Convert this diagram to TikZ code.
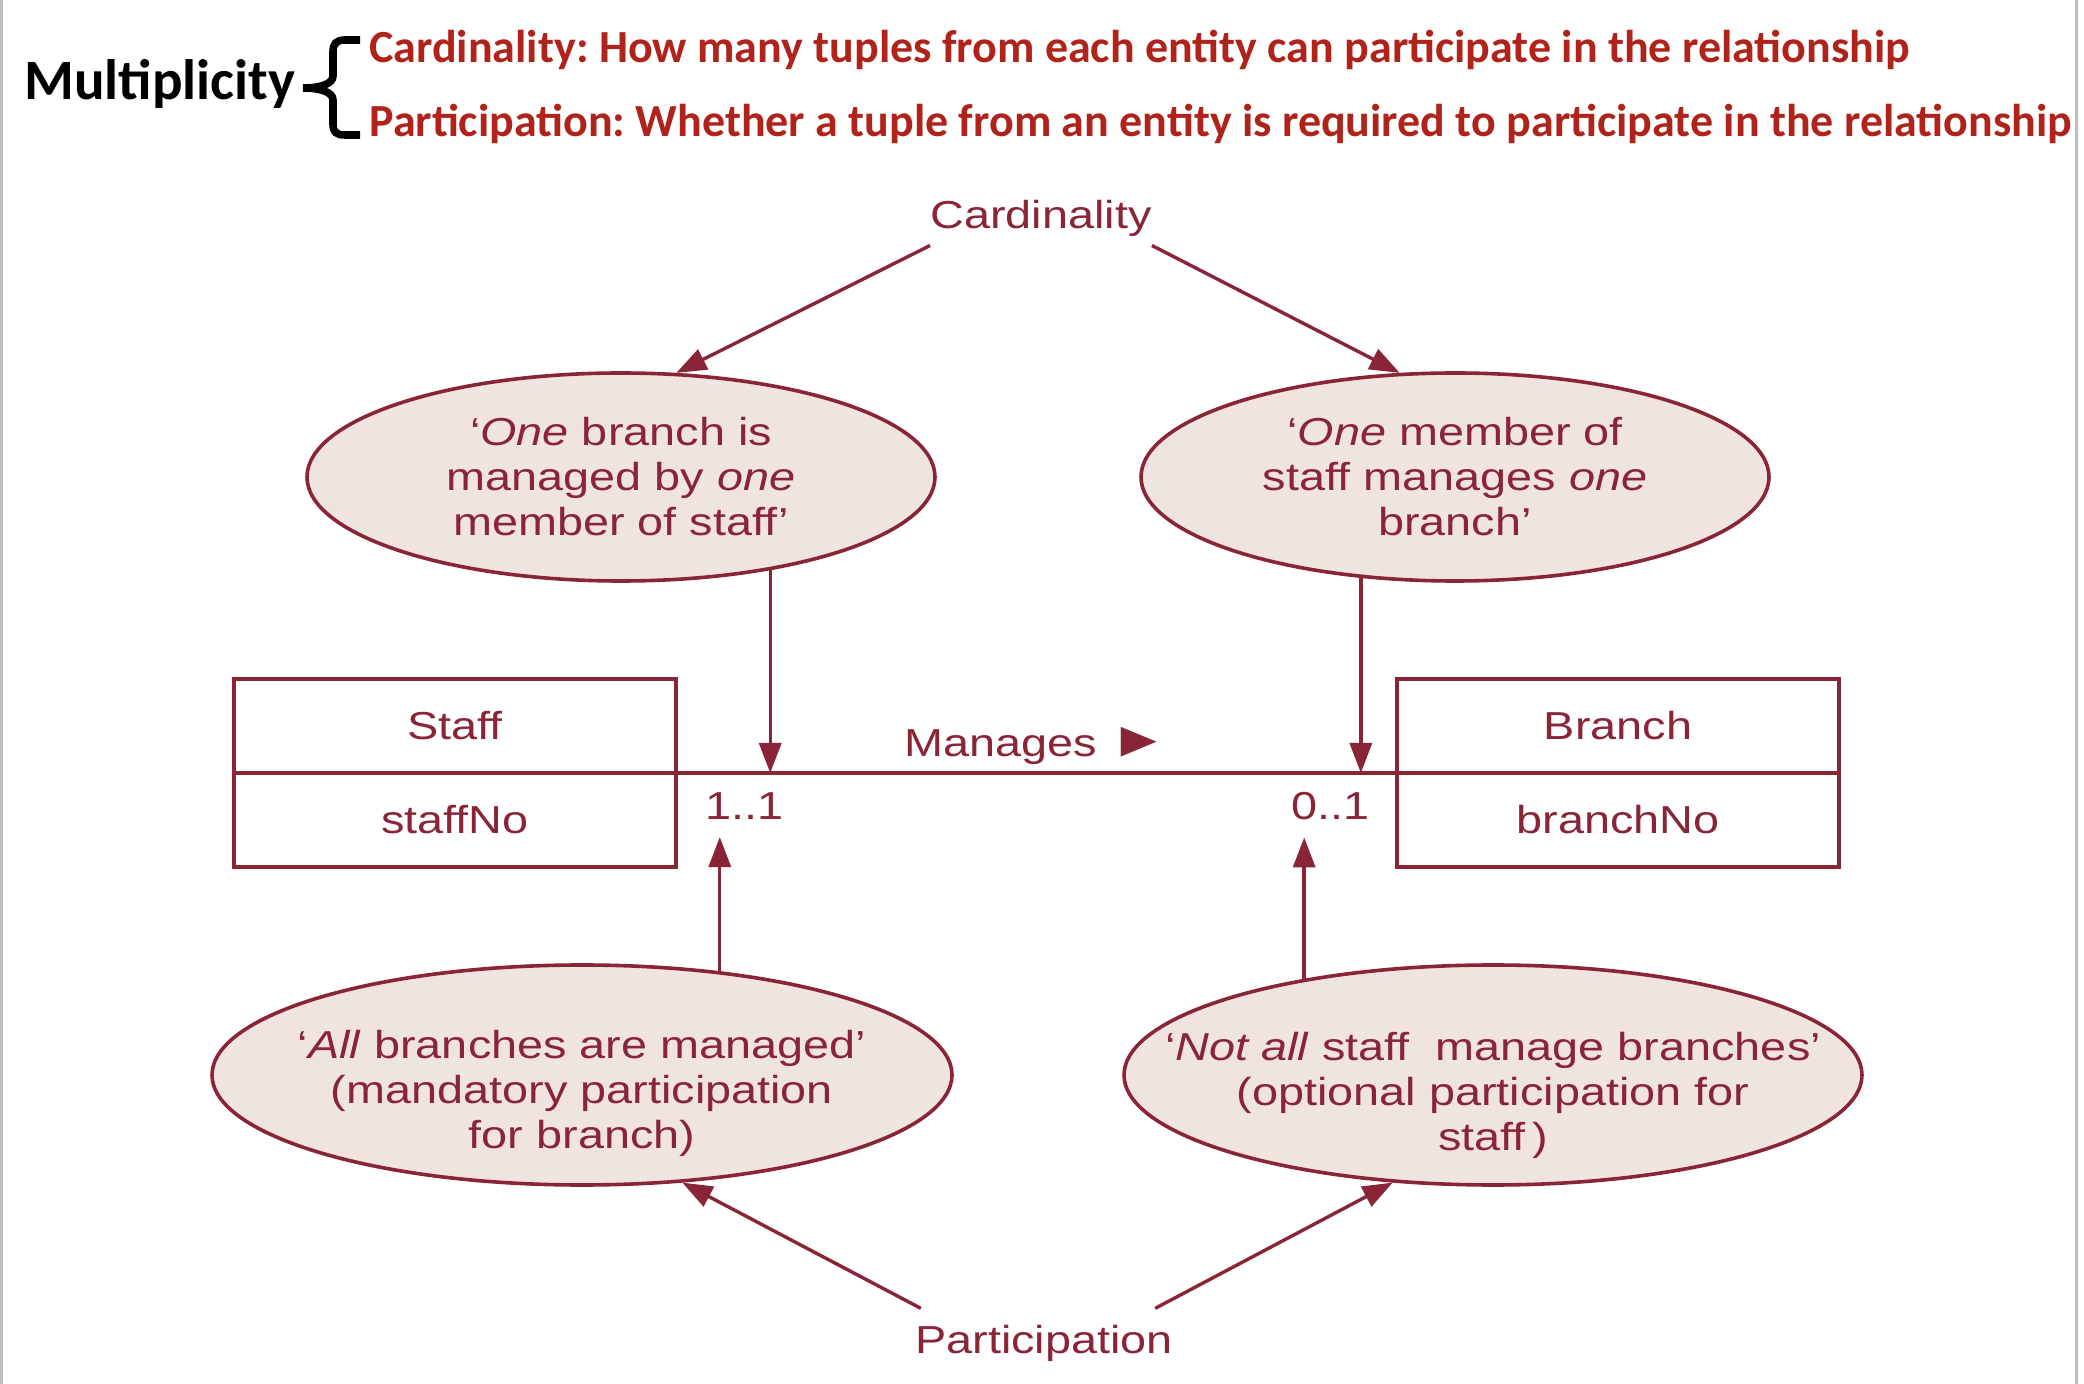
\documentclass[tikz,border=0pt]{standalone}
\usepackage{fontspec}
\setmainfont{Liberation Sans}[FakeStretch=1.2]
\newfontfamily\headfont{Carlito}
\usepackage{tikz}
\usetikzlibrary{shapes.geometric, arrows.meta, positioning}
\definecolor{erdred}{RGB}{138,36,55}
\definecolor{erdfill}{RGB}{240,228,225}
\definecolor{headred}{RGB}{176,35,26}
\frenchspacing

\begin{document}
\begin{tikzpicture}[
    x=0.5pt, y=-0.5pt,
    font=\fontsize{19.5}{22.5}\selectfont,
    headline/.style={anchor=base west, inner sep=0pt, text=headred, font=\headfont\bfseries\fontsize{23}{26}\selectfont},
    note/.style={ellipse, draw=erdred, fill=erdfill, line width=1.8pt, inner sep=0pt, minimum width=314pt, minimum height=104pt},
    notetext/.style={align=center, text=erdred},
    entity/.style={rectangle, draw=erdred, line width=1.8pt, outer sep=0pt, minimum width=221pt, minimum height=47pt, text=erdred},
    tag/.style={text=erdred, inner xsep=0pt},
    arrow/.style={-{Triangle[length=15pt, width=11pt]}, line width=1.7pt, erdred}
]
\fill[white] (0,0) rectangle (2084,1384);
\useasboundingbox (0,0) rectangle (2084,1384);
\draw[black!25, line width=1.5pt] (1,0) -- (1,1384);
\draw[black!25, line width=1.5pt] (2076,0) -- (2076,1384);

% Heading
\node[anchor=base west, inner sep=0pt, font=\headfont\bfseries\fontsize{28.5}{30}\selectfont] (mult) at (24,100) {Multiplicity};
\draw[line width=3.8pt] (360,40) -- (345,40) .. controls (336,40) and (333,44) .. (333,52) -- (333,76)
    .. controls (333,84) and (320,88) .. (303,88) .. controls (320,88) and (333,92) .. (333,100) -- (333,124)
    .. controls (333,132) and (336,135) .. (345,135) -- (360,135);
\node[headline] (cardhead) at (369,63) {Cardinality: How many tuples from each entity can participate in the relationship};
\node[headline] (parthead) at (369,137) {Participation: Whether a tuple from an entity is required to participate in the relationship};

% Cardinality
\node[tag, anchor=base, inner ysep=4pt] (card) at (1041,229) {Cardinality};
\node[note, label={[notetext]center:{‘\emph{One} branch is\\managed by \emph{one}\\member of staff’}}] (oneb) at (621,477) {};
\node[note, label={[notetext]center:{‘\emph{One} member of\\staff manages \emph{one}\\branch’}}] (onem) at (1455,477) {};

% Entities
\node[entity] (staff) at (455,726) {Staff};
\node[entity, below=0pt of staff] (staffno) {staffNo};
\node[entity] (branch) at (1618,726) {Branch};
\node[entity, below=0pt of branch] (branchno) {branchNo};
\draw[line width=1.8pt, erdred] (staff.south east) -- (branch.south west) node[tag, midway, above] (rel) {Manages {\fontsize{25}{25}\selectfont ►}};
\node[tag, anchor=base west] (lo) at (705,820) {1..1};
\node[tag, anchor=base east] (hi) at (1370,820) {0..1};

% Participation
\node[note, minimum width=370pt, minimum height=110pt, label={[notetext, yshift=-9pt]center:{‘\emph{All} branches are managed’\\(mandatory participation\\for branch)}}] (alln) at (582,1075) {};
\node[note, minimum width=369pt, minimum height=110pt, label={[notetext, yshift=-10pt]center:{‘\emph{Not all} staff\ \ manage branches’\\(optional participation for\\staff\,)}}] (allr) at (1493,1075) {};
\node[tag, anchor=base, inner ysep=8pt] (part) at (1044,1353) {Participation};

% Arrows
\draw[arrow] (card.south west) -- (oneb.62);
\draw[arrow] (card.south east) -- (onem.118);
\draw[arrow] (oneb.-32) -- (oneb.-32 |- staff.south east);
\draw[arrow] (onem.-133) -- (onem.-133 |- branch.south west);
\draw[arrow, shorten >=5pt] (alln.37) -- (alln.37 |- lo.south);
\draw[arrow, shorten >=5pt] (allr.153) -- (allr.153 |- hi.south);
\draw[arrow] ([xshift=3pt]part.north west) -- (alln.-47);
\draw[arrow] ([xshift=-9pt]part.north east) -- (allr.-133);

\end{tikzpicture}
\end{document}
